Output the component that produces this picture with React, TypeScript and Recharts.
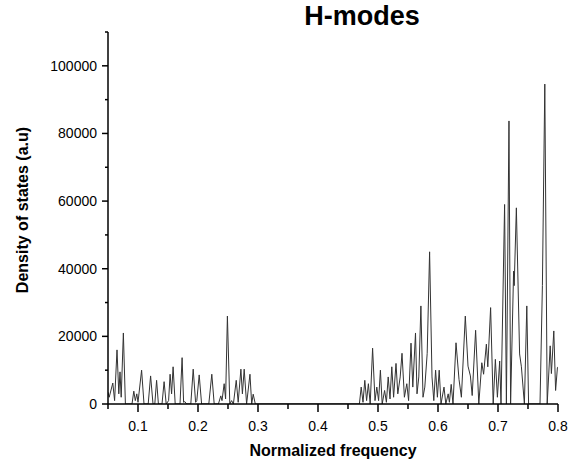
import React from 'react';
import { LineChart, Line, XAxis, YAxis } from 'recharts';

// normalized frequency (x) and density of states (y)
const freq = [
    0.05, 0.052, 0.058, 0.061, 0.065, 0.068, 0.07, 0.072, 0.0756, 0.079,
    0.09, 0.093, 0.0955, 0.098, 0.1, 0.106, 0.11, 0.117, 0.121, 0.125,
    0.128, 0.131, 0.134, 0.14, 0.1435, 0.147, 0.151, 0.1535, 0.156, 0.1585,
    0.162, 0.17, 0.1735, 0.176, 0.178, 0.181, 0.188, 0.192, 0.196, 0.198,
    0.202, 0.206, 0.218, 0.223, 0.227, 0.234, 0.238, 0.24, 0.2436, 0.246,
    0.249, 0.253, 0.256, 0.259, 0.2637, 0.267, 0.2715, 0.274, 0.277, 0.281,
    0.2866, 0.2895, 0.292, 0.2955, 0.469, 0.472, 0.475, 0.478, 0.481, 0.484,
    0.487, 0.491, 0.495, 0.498, 0.501, 0.504, 0.507, 0.511, 0.514, 0.517,
    0.52, 0.523, 0.526, 0.53, 0.533, 0.537, 0.54, 0.544, 0.548, 0.551,
    0.555, 0.558, 0.5625, 0.565, 0.568, 0.5715, 0.575, 0.578, 0.582, 0.586,
    0.59, 0.593, 0.596, 0.599, 0.602, 0.605, 0.61, 0.613, 0.617, 0.619,
    0.622, 0.625, 0.63, 0.635, 0.639, 0.6455, 0.65, 0.654, 0.657, 0.6627,
    0.668, 0.673, 0.676, 0.6806, 0.683, 0.6877, 0.692, 0.6956, 0.699, 0.7028,
    0.705, 0.711, 0.714, 0.7183, 0.721, 0.726, 0.727, 0.7306, 0.736, 0.739,
    0.744, 0.748, 0.751, 0.77, 0.774, 0.778, 0.782, 0.787, 0.789, 0.793,
    0.796, 0.799, 0.8,
];
const dos = [
    3500, 2000, 6200, 1000, 16000, 3000, 9500, 2000, 21000, 0,
    0, 3800, 1000, 3000, 500, 10000, 0, 0, 8300, 0,
    0, 7000, 0, 0, 6600, 0, 1000, 8800, 3000, 11000,
    0, 0, 13700, 500, 700, 0, 0, 10300, 500, 1000,
    8600, 0, 0, 8800, 0, 0, 2400, 1000, 6000, 1500,
    26000, 0, 1000, 0, 7000, 500, 10300, 3000, 10300, 0,
    8800, 0, 2900, 0, 0, 5000, 500, 7000, 1000, 6000,
    0, 16500, 1000, 5000, 1000, 10000, 0, 4000, 500, 8000,
    1500, 11000, 2000, 12000, 3000, 8000, 15000, 2000, 6000, 1000,
    18000, 5000, 21000, 3000, 8000, 29000, 2000, 5000, 15000, 45000,
    8000, 1000, 10000, 2000, 10000, 0, 5000, 0, 3000, 500,
    5800, 0, 18100, 7300, 2000, 26000, 11200, 8300, 2500, 21800,
    0, 12200, 8800, 17700, 11000, 28500, 0, 13200, 2000, 12700,
    0, 59000, 0, 83700, 0, 39300, 35000, 58000, 14800, 11000,
    0, 29000, 0, 0, 35000, 94600, 0, 17200, 9000, 21600,
    4000, 10700, 11000,
];

const xTicks = [0.05, 0.1, 0.15, 0.2, 0.25, 0.3, 0.35, 0.4, 0.45, 0.5, 0.55, 0.6, 0.65, 0.7, 0.75, 0.8];
const yTicks = [0, 10000, 20000, 30000, 40000, 50000, 60000, 70000, 80000, 90000, 100000, 110000];

const data = freq.map((f, i) => ({ f, dos: dos[i] }));

const font = '"Liberation Sans", Arial, sans-serif';

const XTick = (props: any) => {
    const { x, y, payload } = props;
    const v = payload.value;
    const major = Math.round(v * 100) % 10 === 0;
    return (
        <g>
            <line x1={x} y1={y} x2={x} y2={y + (major ? 8 : 5)} stroke="#000" strokeWidth={1.5} />
            {major && (
                <text x={x} y={y + 27} textAnchor="middle" fontSize={14} fontFamily={font} fill="#000">
                    {v.toFixed(1)}
                </text>
            )}
        </g>
    );
};

const YTick = (props: any) => {
    const { x, y, payload } = props;
    const v = payload.value;
    const major = v % 20000 === 0;
    return (
        <g>
            <line x1={x} y1={y} x2={x - (major ? 6 : 3)} y2={y} stroke="#000" strokeWidth={1.5} />
            {major && (
                <text x={x - 11} y={y + 5} textAnchor="end" fontSize={14} fontFamily={font} fill="#000">
                    {v}
                </text>
            )}
        </g>
    );
};

export default function App() {
    return (
        <div style={{ position: 'absolute', left: 0, top: 0, width: 571, height: 466, background: '#fff' }}>
            <div
                style={{
                    position: 'absolute',
                    left: 262,
                    width: 200,
                    top: 1,
                    textAlign: 'center',
                    fontFamily: font,
                    fontWeight: 'bold',
                    fontSize: 27,
                }}
            >
                H-modes
            </div>
            <LineChart width={571} height={466} data={data} margin={{ top: 32, right: 13, bottom: 0, left: 0 }}>
                <XAxis
                    dataKey="f"
                    type="number"
                    domain={[0.05, 0.8]}
                    ticks={xTicks}
                    interval={0}
                    height={62}
                    tickSize={0}
                    tickMargin={0}
                    tick={<XTick />}
                    axisLine={{ stroke: '#000', strokeWidth: 1.5 }}
                    allowDataOverflow
                    label={{
                        content: () => (
                            <text x={333} y={456} textAnchor="middle" fontSize={16} fontWeight="bold" fontFamily={font} fill="#000">
                                Normalized frequency
                            </text>
                        ),
                    }}
                />
                <YAxis
                    type="number"
                    domain={[0, 110000]}
                    ticks={yTicks}
                    interval={0}
                    width={108}
                    tickSize={0}
                    tickMargin={0}
                    tick={<YTick />}
                    axisLine={{ stroke: '#000', strokeWidth: 1.5 }}
                    allowDataOverflow
                    label={{
                        content: () => (
                            <text
                                x={28}
                                y={210}
                                transform="rotate(-90 28 210)"
                                textAnchor="middle"
                                fontSize={16}
                                fontWeight="bold"
                                fontFamily={font}
                                fill="#000"
                            >
                                Density of states (a.u)
                            </text>
                        ),
                    }}
                />
                <Line
                    type="linear"
                    dataKey="dos"
                    stroke="#333"
                    strokeWidth={1}
                    dot={false}
                    isAnimationActive={false}
                />
            </LineChart>
        </div>
    );
}
